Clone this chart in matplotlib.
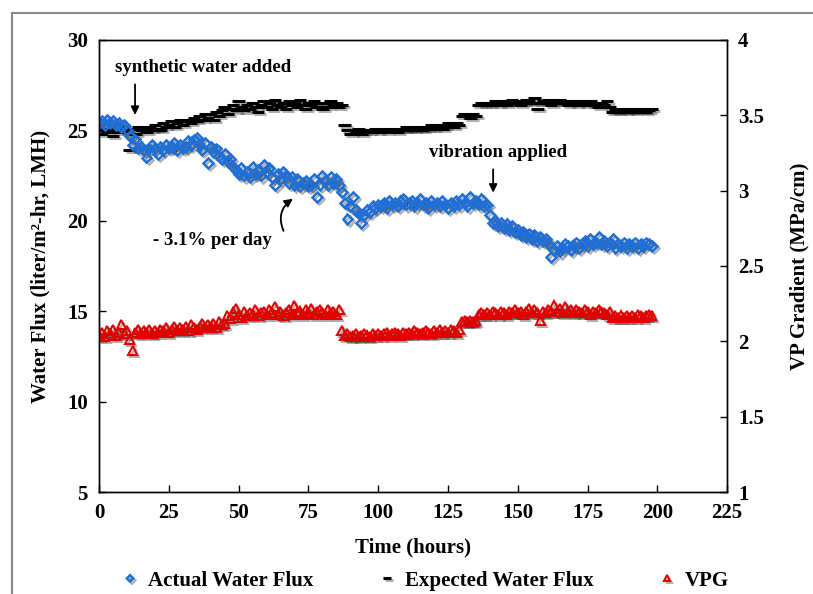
import matplotlib
matplotlib.use('Agg')
import matplotlib.pyplot as plt
import matplotlib.patheffects as pe
from matplotlib.patches import Rectangle

plt.rcParams['font.family'] = ['Liberation Serif', 'DejaVu Serif']
plt.rcParams['font.weight'] = 'bold'

# sampling times (hours)
hours = list(range(0, 199))

# actual water flux (LMH)
actual_flux = [
    25.4, 25.5, 25.3, 25.6, 25.4, 25.5, 25.3, 25.4, 25.2, 25.3,
    25.0, 24.7, 24.2, 24.5, 24.0, 24.1, 23.9, 23.5, 24.0, 24.2,
    24.0, 23.7, 24.1, 23.9, 24.2, 24.0, 24.1, 24.3, 23.9, 24.2,
    24.0, 24.1, 24.4, 24.2, 24.5, 24.6, 24.2, 23.9, 24.3, 23.2,
    24.1, 23.8, 24.0, 23.6, 23.4, 23.7, 23.3, 23.4, 23.0, 22.8,
    22.6, 22.9, 22.5, 22.7, 22.4, 23.0, 22.6, 22.8, 22.5, 23.1,
    22.7, 22.9, 22.4, 22.0, 22.6, 22.3, 22.7, 22.5, 22.1, 22.4,
    22.0, 22.3, 21.9, 22.1, 22.2, 21.9, 22.0, 22.3, 21.3, 22.0,
    22.5, 22.2, 22.0, 22.4, 22.1, 22.3, 22.0, 21.6, 21.0, 20.1,
    20.8, 21.3, 20.6, 20.4, 19.9, 20.3, 20.6, 20.5, 20.8, 20.7,
    20.9, 20.8, 21.0, 20.7, 21.1, 20.9, 21.0, 20.8, 21.1, 21.2,
    20.9, 21.0, 21.1, 20.8, 21.0, 21.2, 20.9, 21.0, 20.7, 21.1,
    20.9, 21.0, 20.8, 21.1, 20.9, 20.7, 21.0, 20.8, 21.1, 20.9,
    21.2, 21.0, 20.8, 21.3, 21.0, 21.1, 20.9, 21.2, 20.8, 20.9,
    20.3, 19.9, 20.0, 19.7, 19.9, 19.6, 19.8, 19.5, 19.7, 19.4,
    19.5, 19.2, 19.4, 19.1, 19.3, 19.0, 19.2, 18.9, 19.1, 18.9,
    19.0, 18.7, 18.0, 18.4, 18.6, 18.3, 18.5, 18.7, 18.6, 18.4,
    18.6, 18.8, 18.5, 18.7, 18.9, 18.6, 19.0, 18.7, 18.8, 19.1,
    18.7, 18.9, 18.6, 18.8, 19.0, 18.5, 18.7, 18.6, 18.8, 18.5,
    18.7, 18.6, 18.8, 18.5, 18.7, 18.6, 18.8, 18.7, 18.6,
]

# expected water flux (LMH)
expected_flux = [
    25.0, 24.8, 25.1, 24.9, 25.0, 24.7, 25.1, 24.9, 25.0, 25.2,
    24.9, 23.9, 25.1, 24.8, 25.2, 25.0, 25.1, 24.9, 25.2, 25.0,
    25.3, 25.1, 25.0, 25.4, 25.2, 25.3, 25.5, 25.2, 25.4, 25.6,
    25.3, 25.5, 25.6, 25.4, 25.7, 25.5, 25.8, 25.6, 25.9, 25.7,
    25.9, 25.6, 26.0, 25.8, 26.1, 26.3, 25.9, 26.2, 26.4, 26.1,
    26.6, 26.3, 26.1, 26.4, 26.2, 26.5, 26.3, 26.0, 26.4, 26.6,
    26.3, 26.5, 26.2, 26.7, 26.4, 26.3, 26.5, 26.2, 26.6, 26.4,
    26.5, 26.3, 26.7, 26.4, 26.2, 26.5, 26.4, 26.6, 26.3, 26.5,
    26.2, 26.5, 26.3, 26.6, 26.4, 26.5, 26.3, 26.4, 25.3, 25.0,
    24.8, 25.0, 24.9, 25.1, 24.8, 24.9, 25.0, 24.9, 25.0, 25.1,
    24.9, 25.0, 25.1, 24.9, 25.0, 25.1, 25.0, 24.9, 25.1, 25.0,
    25.2, 25.0, 25.1, 25.0, 25.2, 25.1, 25.0, 25.2, 25.1, 25.3,
    25.1, 25.2, 25.3, 25.1, 25.2, 25.4, 25.3, 25.2, 25.4, 25.3,
    25.8, 25.9, 25.8, 25.7, 25.9, 25.8, 26.4, 26.5, 26.4, 26.5,
    26.4, 26.5, 26.6, 26.4, 26.5, 26.6, 26.4, 26.5, 26.7, 26.5,
    26.6, 26.4, 26.5, 26.7, 26.6, 26.5, 26.8, 26.2, 26.5, 26.6,
    26.5, 26.7, 26.4, 26.6, 26.5, 26.7, 26.5, 26.6, 26.4, 26.5,
    26.6, 26.4, 26.5, 26.6, 26.4, 26.5, 26.6, 26.4, 26.5, 26.3,
    26.5, 26.4, 26.6, 26.3, 26.0, 26.1, 26.0, 26.2, 26.1, 26.0,
    26.2, 26.1, 26.0, 26.2, 26.1, 26.2, 26.0, 26.1, 26.2,
]

# vapour pressure gradient (MPa/cm), right axis
vpg = [
    2.04, 2.06, 2.03, 2.07, 2.05, 2.08, 2.04, 2.06, 2.11, 2.05,
    2.07, 2.01, 1.94, 2.06, 2.08, 2.05, 2.07, 2.06, 2.08, 2.05,
    2.07, 2.06, 2.08, 2.07, 2.09, 2.06, 2.08, 2.10, 2.07, 2.09,
    2.08, 2.10, 2.07, 2.11, 2.09, 2.08, 2.10, 2.12, 2.09, 2.11,
    2.10, 2.12, 2.09, 2.13, 2.11, 2.12, 2.17, 2.15, 2.19, 2.22,
    2.18, 2.16, 2.20, 2.17, 2.19, 2.18, 2.21, 2.17, 2.19, 2.20,
    2.18, 2.21, 2.19, 2.23, 2.18, 2.20, 2.17, 2.19, 2.21, 2.18,
    2.24, 2.19, 2.20, 2.18, 2.21, 2.19, 2.22, 2.18, 2.20, 2.21,
    2.19, 2.18, 2.21, 2.19, 2.20, 2.18, 2.21, 2.07, 2.04, 2.05,
    2.03, 2.04, 2.05, 2.03, 2.04, 2.05, 2.04, 2.03, 2.05, 2.04,
    2.05, 2.04, 2.05, 2.06, 2.04, 2.05, 2.06, 2.05, 2.04, 2.06,
    2.05, 2.06, 2.05, 2.07, 2.06, 2.05, 2.06, 2.07, 2.06, 2.05,
    2.07, 2.06, 2.08, 2.06, 2.07, 2.06, 2.08, 2.07, 2.06, 2.08,
    2.13, 2.14, 2.13, 2.14, 2.13, 2.14, 2.18, 2.19, 2.18, 2.19,
    2.18, 2.20, 2.19, 2.18, 2.20, 2.19, 2.18, 2.20, 2.19, 2.21,
    2.19, 2.20, 2.18, 2.20, 2.22, 2.19, 2.21, 2.19, 2.14, 2.20,
    2.19, 2.21, 2.20, 2.24, 2.20, 2.22, 2.19, 2.23, 2.20, 2.21,
    2.19, 2.21, 2.20, 2.19, 2.21, 2.20, 2.18, 2.20, 2.19, 2.21,
    2.20, 2.19, 2.18, 2.20, 2.16, 2.17, 2.16, 2.17, 2.16, 2.17,
    2.16, 2.17, 2.16, 2.18, 2.17, 2.16, 2.17, 2.18, 2.17,
]

x_ticks = [0, 25, 50, 75, 100, 125, 150, 175, 200, 225]
left_ticks = [5, 10, 15, 20, 25, 30]
right_ticks = [1, 1.5, 2, 2.5, 3, 3.5, 4]
right_labels = ['1', '1.5', '2', '2.5', '3', '3.5', '4']

shadow = [pe.SimpleLineShadow(offset=(1.5, -1.5), shadow_color='k', alpha=0.3), pe.Normal()]

fig = plt.figure(figsize=(8.13, 5.94), dpi=100)
ax = fig.add_axes([0.1218, 0.1717, 0.7725, 0.761])
ax2 = ax.twinx()

# grey frame around the figure (partly cut by the image edge)
fig.patches.append(Rectangle((12 / 813, -0.2), 1.2, 1.2 - 13 / 594, transform=fig.transFigure,
                             fill=False, edgecolor='#8a8a8a', linewidth=1.5))

h_exp, = ax.plot(hours, expected_flux, ls='none', marker='_', ms=9, mew=2.2, color='black',
                 label='Expected Water Flux', path_effects=shadow)
h_act, = ax.plot(hours, actual_flux, ls='none', marker='D', ms=5, mew=1.8, mfc='none',
                 mec='#1f6fd6', label='Actual Water Flux', path_effects=shadow)
h_vpg, = ax2.plot(hours, vpg, ls='none', marker='^', ms=6.5, mew=1.5, mfc='none',
                  mec='#e00000', label='VPG', path_effects=shadow)

ax.set_xlim(0, 225)
ax.set_ylim(5, 30)
ax2.set_ylim(1, 4)
ax.set_xticks(x_ticks)
ax.set_yticks(left_ticks)
ax2.set_yticks(right_ticks)
ax2.set_yticklabels(right_labels)

for a in (ax, ax2):
    a.tick_params(direction='in', length=5, width=1, labelsize=15, pad=8)
    for s in a.spines.values():
        s.set_linewidth(1)
        s.set_color('black')

ax.set_xlabel('Time (hours)', fontsize=15, fontweight='bold', labelpad=10)
ax.set_ylabel('Water Flux (liter/m²-hr, LMH)', fontsize=15, fontweight='bold', labelpad=12)
ax2.set_ylabel('VP Gradient (MPa/cm)', fontsize=15, fontweight='bold', labelpad=18)

arrow = dict(arrowstyle='-|>', color='black', lw=1.3, mutation_scale=12)
ax.text(5.7, 28.5, 'synthetic water added', fontsize=13.5, fontweight='bold', va='center')
ax.annotate('', xy=(12.9, 25.7), xytext=(12.9, 27.7), arrowprops=arrow)
ax.text(143, 23.75, 'vibration applied', fontsize=13.5, fontweight='bold', va='center', ha='center')
ax.annotate('', xy=(141.2, 21.4), xytext=(141.2, 23.0), arrowprops=arrow)
ax.text(40.5, 18.9, '- 3.1% per day', fontsize=13.5, fontweight='bold', va='center', ha='center')
ax.annotate('', xy=(70.3, 21.3), xytext=(66.5, 19.3),
            arrowprops=dict(arrowstyle='-|>', color='black', lw=1.3, mutation_scale=12,
                            connectionstyle='arc3,rad=-0.45'))

fig.legend(handles=[h_act, h_exp, h_vpg], loc='lower center', bbox_to_anchor=(0.524, -0.026),
           ncol=3, frameon=False, fontsize=15, columnspacing=3.2, handlelength=0.7,
           handletextpad=0.5, markerscale=0.65)

plt.savefig('out.png', dpi=100)
